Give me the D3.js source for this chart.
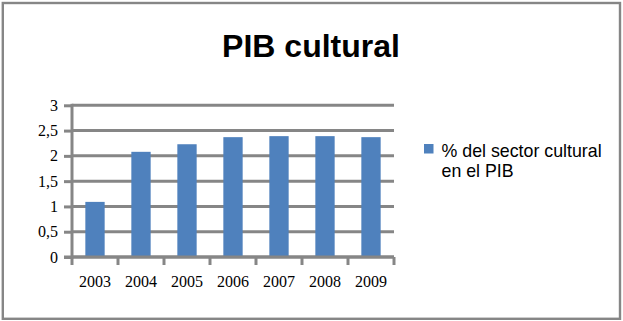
<!DOCTYPE html>
<html><head><meta charset="utf-8">
<script src="https://cdn.jsdelivr.net/npm/d3@7"></script>
<style>body{margin:0;background:#fff}svg{display:block}</style></head><body>
<script>
const categories = ["2003","2004","2005","2006","2007","2008","2009"];
const values = [1.09, 2.08, 2.23, 2.37, 2.39, 2.39, 2.37];
const seriesName = ["% del sector cultural", "en el PIB"];
const yTickValues = [0, 0.5, 1, 1.5, 2, 2.5, 3];
const yTickLabels = ["0", "0,5", "1", "1,5", "2", "2,5", "3"];
const title = "PIB cultural";

const W = 623, H = 321;
const grey = "#868686", blue = "#4f81bd";
const svg = d3.select("body").append("svg").attr("width", W).attr("height", H);
svg.append("rect").attr("width", W).attr("height", H).attr("fill", "#fff");
svg.append("rect").attr("x", 2.8).attr("y", 3).attr("width", 617.2).attr("height", 315.8)
  .attr("fill", "none").attr("stroke", grey).attr("stroke-width", 2.4);

const x0 = 72, x1 = 394, yB = 257, yT = 105.3;
const y = d3.scaleLinear().domain([0, 3]).range([yB, yT]);
const xCat = d3.scaleBand().domain(categories).range([x0, x1]).padding(0);
const xBar = d3.scaleBand().domain(categories).range([x0, x1]).paddingInner(0.58).paddingOuter(0.29);

// title
svg.append("text").attr("x", 311).attr("y", 57).attr("text-anchor", "middle")
  .style("font-family", "'Liberation Sans', Arial, sans-serif").style("font-weight", "bold")
  .style("font-size", "32px").attr("fill", "#000").text(title);

// gridlines
svg.append("g").selectAll("line").data(yTickValues).join("line")
  .attr("x1", x0).attr("x2", x1).attr("y1", d => y(d)).attr("y2", d => y(d))
  .attr("stroke", grey).attr("stroke-width", 3);

// y axis
const yAxis = svg.append("g").attr("transform", `translate(${x0},0)`)
  .call(d3.axisLeft(y).tickValues(yTickValues).tickFormat((d, i) => yTickLabels[i]).tickSize(8).tickPadding(6));
yAxis.select(".domain").remove();
yAxis.selectAll(".tick line").attr("stroke", grey).attr("stroke-width", 3);
yAxis.selectAll(".tick text").attr("fill", "#000")
  .style("font-family", "'Liberation Serif', 'Times New Roman', serif").style("font-size", "16px");
svg.append("line").attr("x1", x0).attr("x2", x0).attr("y1", y(3) - 1.5).attr("y2", yB + 1.5)
  .attr("stroke", grey).attr("stroke-width", 3);

// bars
svg.append("g").selectAll("rect").data(values).join("rect")
  .attr("x", (d, i) => xBar(categories[i])).attr("width", xBar.bandwidth())
  .attr("y", d => y(d)).attr("height", d => yB - y(d)).attr("fill", blue);

// x axis baseline + boundary ticks
svg.append("line").attr("x1", x0 - 8).attr("x2", x1).attr("y1", yB).attr("y2", yB)
  .attr("stroke", grey).attr("stroke-width", 3);
const bounds = categories.map(c => xCat(c)).concat([x1]);
svg.append("g").selectAll("line").data(bounds).join("line")
  .attr("x1", d => d).attr("x2", d => d).attr("y1", yB).attr("y2", yB + 8)
  .attr("stroke", grey).attr("stroke-width", 3);

const xAxis = svg.append("g").attr("transform", `translate(0,${yB})`)
  .call(d3.axisBottom(xCat).tickSize(0).tickPadding(0));
xAxis.select(".domain").remove();
xAxis.selectAll(".tick text").attr("y", 30).attr("dy", "0")
  .attr("fill", "#000")
  .style("font-family", "'Liberation Serif', 'Times New Roman', serif").style("font-size", "16px");

// legend
svg.append("rect").attr("x", 424).attr("y", 144).attr("width", 9.5).attr("height", 9.5).attr("fill", blue);
const lg = svg.append("text").attr("x", 441.5).attr("y", 157.3).attr("fill", "#000")
  .style("font-family", "'Liberation Sans', Arial, sans-serif").style("font-size", "17.8px");
lg.selectAll("tspan").data(seriesName).join("tspan")
  .attr("x", 441.5).attr("dy", (d, i) => i === 0 ? 0 : 19.4).text(d => d);
</script>
</body></html>
